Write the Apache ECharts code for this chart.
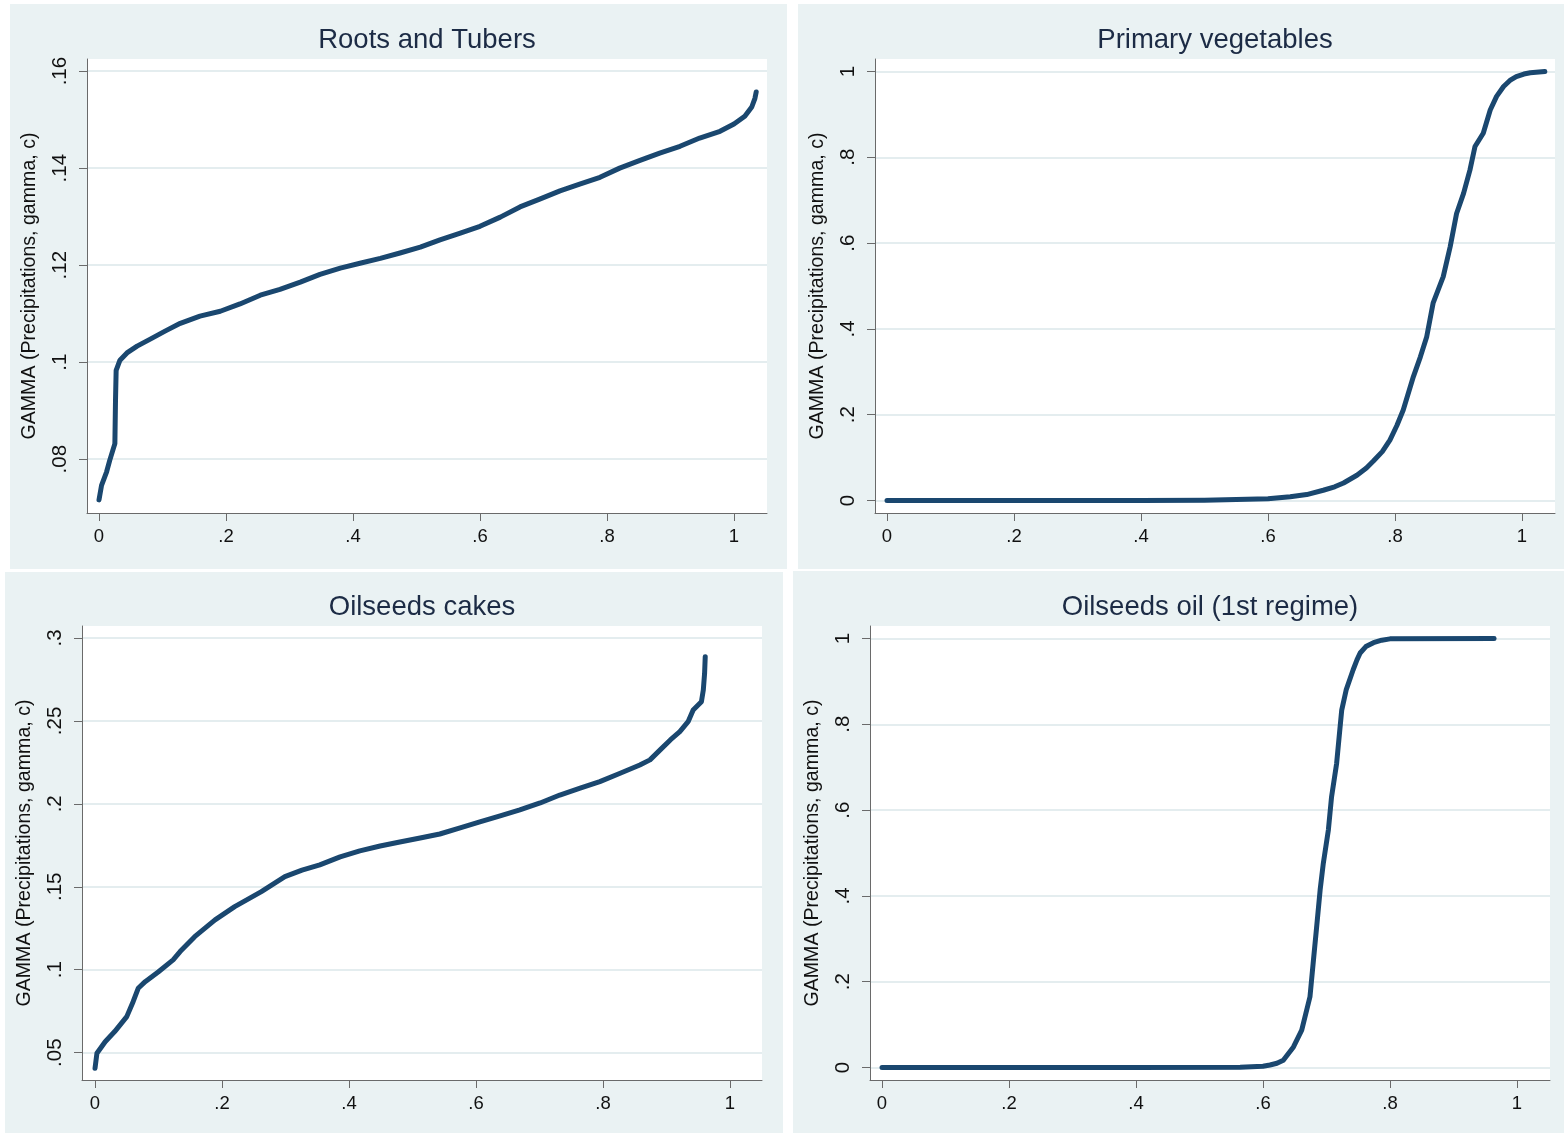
<!DOCTYPE html>
<html>
<head>
<meta charset="utf-8">
<script src="https://cdn.jsdelivr.net/npm/echarts@6/dist/echarts.min.js"></script>
<style>
html,body{margin:0;padding:0;background:#ffffff;}
#chart{width:1564px;height:1133px;}
</style>
</head>
<body>
<div id="chart"></div>
<script>
// ---------- DATA ----------
const titles = ['Roots and Tubers', 'Primary vegetables', 'Oilseeds cakes', 'Oilseeds oil (1st regime)'];
const yTitle = 'GAMMA (Precipitations, gamma, c)';

const xTicks = [0, 0.2, 0.4, 0.6, 0.8, 1];
const xTickLabels = ['0', '.2', '.4', '.6', '.8', '1'];

const yTicks1 = [0.08, 0.10, 0.12, 0.14, 0.16];
const yTickLabels1 = ['.08', '.1', '.12', '.14', '.16'];
const yTicks2 = [0, 0.2, 0.4, 0.6, 0.8, 1];
const yTickLabels2 = ['0', '.2', '.4', '.6', '.8', '1'];
const yTicks3 = [0.05, 0.10, 0.15, 0.20, 0.25, 0.30];
const yTickLabels3 = ['.05', '.1', '.15', '.2', '.25', '.3'];
const yTicks4 = [0, 0.2, 0.4, 0.6, 0.8, 1];
const yTickLabels4 = ['0', '.2', '.4', '.6', '.8', '1'];

// Roots and Tubers
const x1 = [0, .004, .012, .017, .025, .026, .027, .033, .044, .060, .080, .104, .128, .159, .191, .222, .254, .285, .317, .348, .380, .411, .443, .474, .506, .537, .569, .600, .632, .663, .694, .726, .757, .789, .820, .852, .883, .915, .946, .978, 1.0, 1.017, 1.028, 1.033, 1.035];
const y1 = [.0716, .0746, .0774, .0798, .0832, .0922, .0983, .1004, .1019, .1033, .1047, .1064, .1080, .1095, .1105, .1120, .1138, .1150, .1165, .1181, .1194, .1204, .1214, .1225, .1237, .1252, .1266, .1280, .1299, .1320, .1336, .1353, .1367, .1381, .1400, .1416, .1431, .1445, .1462, .1476, .1491, .1507, .1526, .1544, .1557];

// Primary vegetables
const x2 = [0, .2, .4, .5, .6, .635, .661, .687, .705, .719, .740, .755, .766, .780, .792, .803, .813, .829, .840, .850, .860, .876, .887, .897, .908, .918, .926, .939, .950, .960, .971, .981, .991, 1.003, 1.013, 1.036];
const y2 = [0, 0, 0, .001, .004, .009, .014, .024, .032, .041, .059, .076, .092, .114, .141, .175, .211, .289, .335, .382, .460, .522, .592, .669, .716, .770, .825, .856, .910, .942, .965, .979, .988, .994, .997, 1.0];

// Oilseeds cakes
const x3 = [0, .003, .016, .031, .050, .060, .068, .079, .100, .123, .134, .157, .189, .220, .262, .299, .326, .354, .386, .417, .449, .480, .512, .543, .575, .606, .638, .669, .701, .732, .764, .795, .827, .858, .874, .890, .906, .921, .934, .942, .955, .958, .960, .961];
const y3 = [.0406, .0496, .0566, .0627, .0717, .0807, .0888, .0928, .0988, .1059, .1109, .1199, .1300, .1380, .1471, .1561, .1600, .1632, .1680, .1716, .1746, .1770, .1794, .1818, .1855, .1891, .1927, .1963, .2005, .2053, .2094, .2134, .2184, .2234, .2265, .2325, .2385, .2435, .2495, .2566, .2616, .2687, .2787, .2887];

// Oilseeds oil (1st regime)
const x4 = [0, .2, .4, .564, .600, .611, .622, .632, .648, .661, .674, .679, .684, .690, .695, .703, .708, .716, .721, .724, .731, .742, .748, .753, .762, .774, .787, .800, .964];
const y4 = [0, 0, 0, .001, .003, .006, .010, .017, .048, .087, .165, .243, .320, .414, .476, .554, .631, .709, .787, .833, .880, .927, .950, .966, .981, .990, .996, .999, 1.0];

// ---------- LAYOUT / STYLE ----------
const FONT = "'Liberation Sans', Arial, sans-serif";
const LINE = '#1a476f';
const BG = '#eaf2f3';
const AXIS = '#6a6a6a';

const panels = [
  {bg: [10, 4, 777, 565],  grid: [87, 59, 680, 454],  xr: [-0.0189, 1.052], yr: [0.0689, 0.1625], yt: yTicks1, yl: yTickLabels1, x: x1, y: y1},
  {bg: [798, 4, 766, 565], grid: [875, 59, 680, 454], xr: [-0.0189, 1.052], yr: [-0.029, 1.029],  yt: yTicks2, yl: yTickLabels2, x: x2, y: y2},
  {bg: [5, 572, 778, 561], grid: [82, 626, 680, 454], xr: [-0.0205, 1.0504], yr: [0.0335, 0.3072], yt: yTicks3, yl: yTickLabels3, x: x3, y: y3},
  {bg: [793, 571, 771, 562], grid: [870, 626, 680, 454], xr: [-0.0189, 1.052], yr: [-0.029, 1.029], yt: yTicks4, yl: yTickLabels4, x: x4, y: y4}
];

function labelFor(v, ticks, labels) {
  for (let i = 0; i < ticks.length; i++) if (Math.abs(v - ticks[i]) < 1e-9) return labels[i];
  return '';
}

const grids = [], xAxes = [], yAxes = [], series = [], graphics = [];
panels.forEach((p, i) => {
  graphics.push({type: 'rect', z: -10, shape: {x: p.bg[0], y: p.bg[1], width: p.bg[2], height: p.bg[3]}, style: {fill: BG}});
  graphics.push({type: 'text', z: 10, x: p.grid[0] + p.grid[2] / 2, y: p.grid[1] - 19,
    style: {text: titles[i], fill: '#1c2b45', font: '27.5px ' + FONT, textAlign: 'center', textVerticalAlign: 'middle'}});
  grids.push({left: p.grid[0], top: p.grid[1], width: p.grid[2], height: p.grid[3], show: true, backgroundColor: '#ffffff', borderWidth: 0, containLabel: false});
  xAxes.push({
    type: 'value', gridIndex: i, min: p.xr[0], max: p.xr[1],
    axisLine: {show: true, onZero: false, lineStyle: {color: AXIS, width: 1}},
    axisTick: {show: true, length: 8, lineStyle: {color: AXIS, width: 1}, customValues: xTicks},
    axisLabel: {customValues: xTicks, margin: 14, color: '#111', fontSize: 18.5, fontFamily: FONT,
      formatter: v => labelFor(v, xTicks, xTickLabels)},
    splitLine: {show: false}
  });
  yAxes.push({
    type: 'value', gridIndex: i, min: p.yr[0], max: p.yr[1],
    name: yTitle, nameLocation: 'middle', nameGap: 47, nameRotate: 90,
    nameTextStyle: {color: '#111', fontSize: 19.6, fontFamily: FONT},
    axisLine: {show: true, onZero: false, lineStyle: {color: AXIS, width: 1}},
    axisTick: {show: true, length: 8, lineStyle: {color: AXIS, width: 1}, customValues: p.yt},
    axisLabel: {customValues: p.yt, rotate: 90, margin: 16, color: '#111', fontSize: 20.5, fontFamily: FONT,
      formatter: v => labelFor(v, p.yt, p.yl)},
    splitLine: {show: true, lineStyle: {color: '#e4edef', width: 2}}
  });
  series.push({
    type: 'line', xAxisIndex: i, yAxisIndex: i, showSymbol: false, symbol: 'none', smooth: false,
    lineStyle: {color: LINE, width: 5, cap: 'round', join: 'round'},
    data: p.x.map((xv, k) => [xv, p.y[k]]),
    animation: false, z: 5
  });
});

const chart = echarts.init(document.getElementById('chart'), null, {renderer: 'canvas'});
chart.setOption({
  animation: false,
  backgroundColor: '#ffffff',
  graphic: {elements: graphics},
  grid: grids, xAxis: xAxes, yAxis: yAxes, series: series
});
</script>
</body>
</html>
